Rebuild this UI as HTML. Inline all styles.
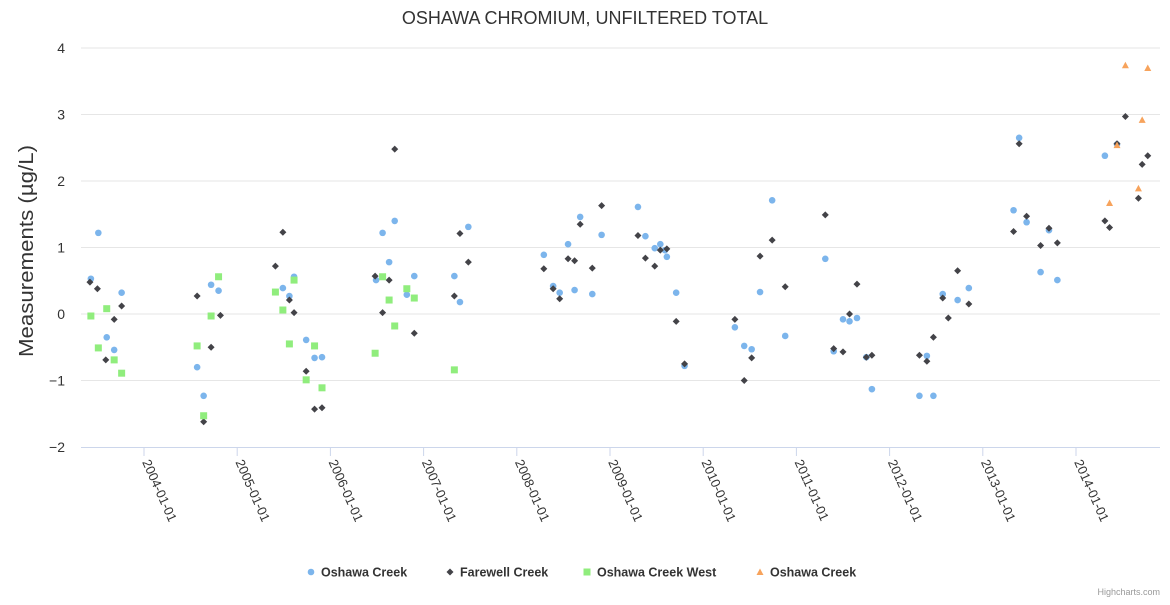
<!DOCTYPE html>
<html><head><meta charset="utf-8"><style>
body{margin:0;background:#fff;}
svg{font-family:"Liberation Sans",sans-serif;}
</style></head><body>
<svg id="chart" width="1170" height="600">
<rect width="1170" height="600" fill="#fff"/>
<text x="585" y="24" text-anchor="middle" font-size="18" fill="#333">OSHAWA CHROMIUM, UNFILTERED TOTAL</text>
<text transform="translate(33,251) rotate(-90)" text-anchor="middle" font-size="20" textLength="212" lengthAdjust="spacingAndGlyphs" fill="#333">Measurements (µg/L)</text>
<g id="grid"></g><g id="xaxis"></g><g id="marks"></g><g id="legend"></g>
<text x="1160" y="595" text-anchor="end" font-size="9" fill="#999">Highcharts.com</text>
</svg>
<script>
const yTicks=[-2,-1,0,1,2,3,4];
const xTickYears=[2004,2005,2006,2007,2008,2009,2010,2011,2012,2013,2014];
const xTickLabels=["2004-01-01","2005-01-01","2006-01-01","2007-01-01","2008-01-01","2009-01-01","2010-01-01","2011-01-01","2012-01-01","2013-01-01","2014-01-01"];
const seriesNames=["Oshawa Creek","Farewell Creek","Oshawa Creek West","Oshawa Creek"];
const oshawaCreek=[[2003.43,0.53],[2003.51,1.22],[2003.60,-0.35],[2003.68,-0.54],[2003.76,0.32],
[2004.57,-0.80],[2004.64,-1.23],[2004.72,0.44],[2004.80,0.35],
[2005.49,0.39],[2005.56,0.27],[2005.61,0.56],[2005.74,-0.39],[2005.83,-0.66],[2005.91,-0.65],
[2006.49,0.51],[2006.56,1.22],[2006.63,0.78],[2006.69,1.40],[2006.82,0.29],[2006.90,0.57],
[2007.33,0.57],[2007.39,0.18],[2007.48,1.31],
[2008.29,0.89],[2008.39,0.42],[2008.46,0.32],[2008.55,1.05],[2008.62,0.36],[2008.68,1.46],[2008.81,0.30],[2008.91,1.19],
[2009.30,1.61],[2009.38,1.17],[2009.48,0.99],[2009.54,1.05],[2009.59,0.96],[2009.61,0.86],[2009.71,0.32],[2009.80,-0.78],
[2010.34,-0.20],[2010.44,-0.48],[2010.52,-0.53],[2010.61,0.33],[2010.74,1.71],[2010.88,-0.33],
[2011.31,0.83],[2011.40,-0.56],[2011.50,-0.08],[2011.57,-0.11],[2011.65,-0.06],[2011.75,-0.65],[2011.81,-1.13],
[2012.32,-1.23],[2012.40,-0.63],[2012.47,-1.23],[2012.57,0.30],[2012.73,0.21],[2012.85,0.39],
[2013.33,1.56],[2013.39,2.65],[2013.47,1.38],[2013.62,0.63],[2013.71,1.26],[2013.80,0.51],
[2014.31,2.38],[2014.44,2.55]];
const farewellCreek=[[2003.42,0.48],[2003.50,0.38],[2003.59,-0.69],[2003.68,-0.08],[2003.76,0.12],
[2004.57,0.27],[2004.64,-1.62],[2004.72,-0.50],[2004.82,-0.02],
[2005.41,0.72],[2005.49,1.23],[2005.56,0.21],[2005.61,0.02],[2005.74,-0.86],[2005.83,-1.43],[2005.91,-1.41],
[2006.48,0.57],[2006.56,0.02],[2006.63,0.51],[2006.69,2.48],[2006.90,-0.29],
[2007.33,0.27],[2007.39,1.21],[2007.48,0.78],
[2008.29,0.68],[2008.39,0.38],[2008.46,0.23],[2008.55,0.83],[2008.62,0.80],[2008.68,1.35],[2008.81,0.69],[2008.91,1.63],
[2009.30,1.18],[2009.38,0.84],[2009.48,0.72],[2009.54,0.96],[2009.61,0.98],[2009.71,-0.11],[2009.80,-0.75],
[2010.34,-0.08],[2010.44,-1.0],[2010.52,-0.66],[2010.61,0.87],[2010.74,1.11],[2010.88,0.41],
[2011.31,1.49],[2011.40,-0.52],[2011.50,-0.57],[2011.57,0.00],[2011.65,0.45],[2011.75,-0.65],[2011.81,-0.62],
[2012.32,-0.62],[2012.40,-0.71],[2012.47,-0.35],[2012.57,0.24],[2012.63,-0.06],[2012.73,0.65],[2012.85,0.15],
[2013.33,1.24],[2013.39,2.56],[2013.47,1.47],[2013.62,1.03],[2013.71,1.29],[2013.80,1.07],
[2014.31,1.40],[2014.36,1.30],[2014.44,2.56],[2014.53,2.97],[2014.67,1.74],[2014.71,2.25],[2014.77,2.38]];
const oshawaCreekWest=[[2003.43,-0.03],[2003.51,-0.51],[2003.60,0.08],[2003.68,-0.69],[2003.76,-0.89],
[2004.57,-0.48],[2004.64,-1.53],[2004.72,-0.03],[2004.80,0.56],
[2005.41,0.33],[2005.49,0.06],[2005.56,-0.45],[2005.61,0.51],[2005.74,-0.99],[2005.83,-0.48],[2005.91,-1.11],
[2006.48,-0.59],[2006.56,0.56],[2006.63,0.21],[2006.69,-0.18],[2006.82,0.38],[2006.90,0.24],
[2007.33,-0.84]];
const oshawaCreek2=[[2014.36,1.67],[2014.44,2.54],[2014.53,3.74],[2014.67,1.89],[2014.71,2.92],[2014.77,3.70]];

const NS="http://www.w3.org/2000/svg";
const L=81,R=1160;
function xs(yr){return 144+(yr-2004)*93.2;}
function ys(v){return 314-v*66.5;}
function mk(tag,attrs,parent){const e=document.createElementNS(NS,tag);for(const k in attrs)e.setAttribute(k,attrs[k]);parent.appendChild(e);return e;}
const grid=document.getElementById('grid'),xa=document.getElementById('xaxis'),marks=document.getElementById('marks'),lg=document.getElementById('legend');
yTicks.forEach(t=>{
  if(t!==-2){const g=mk('line',{x1:L,x2:R,y1:ys(t),y2:ys(t),stroke:'#e6e6e6'},grid);
  
  }
  const tx=mk('text',{x:65,y:ys(t)+5,'text-anchor':'end','font-size':14,fill:'#333'},grid);
  tx.textContent=t===0?'0':(t<0?'−'+(-t):String(t));
  
  
});
const ax=mk('line',{x1:L,x2:R,y1:447.5,y2:447.5,stroke:'#ccd6eb'},xa);


xTickYears.forEach((y,i)=>{
  const x=xs(y);
  const tk=mk('line',{x1:x,x2:x,y1:447,y2:456,stroke:'#ccd6eb'},xa);
  
  
  const tx=mk('text',{x:x-2,y:462,'font-size':13,fill:'#333',transform:`rotate(66 ${x-2} 462)`},xa);
  tx.textContent=xTickLabels[i];
  
  
});
function shape(type,x,y,parent){
  if(type===0)return mk('circle',{cx:x,cy:y,r:3.3,fill:'#7cb5ec'},parent);
  if(type===1)return mk('path',{d:`M${x},${y-3.5}L${x+3.5},${y}L${x},${y+3.5}L${x-3.5},${y}Z`,fill:'#434348'},parent);
  if(type===2)return mk('rect',{x:x-3.5,y:y-3.5,width:7,height:7,fill:'#90ed7d'},parent);
  return mk('path',{d:`M${x},${y-3.5}L${x+3.5},${y+3}L${x-3.5},${y+3}Z`,fill:'#f7a35c'},parent);
}
const allSeries=[oshawaCreek,farewellCreek,oshawaCreekWest,oshawaCreek2];
allSeries.forEach((s,si)=>{
  s.forEach(p=>{
    const e=shape(si,xs(p[0]),ys(p[1]),marks);
    
    
  });
});
const legX=[311,450,587,760];
seriesNames.forEach((n,i)=>{
  const g=mk('g',{},lg);
  
  
  shape(i,legX[i],572,g);
  const t=mk('text',{x:legX[i]+10,y:576.5,'font-size':12.5,'font-weight':'bold',fill:'#333'},g);
  t.textContent=n;
});
</script>
</body></html>
